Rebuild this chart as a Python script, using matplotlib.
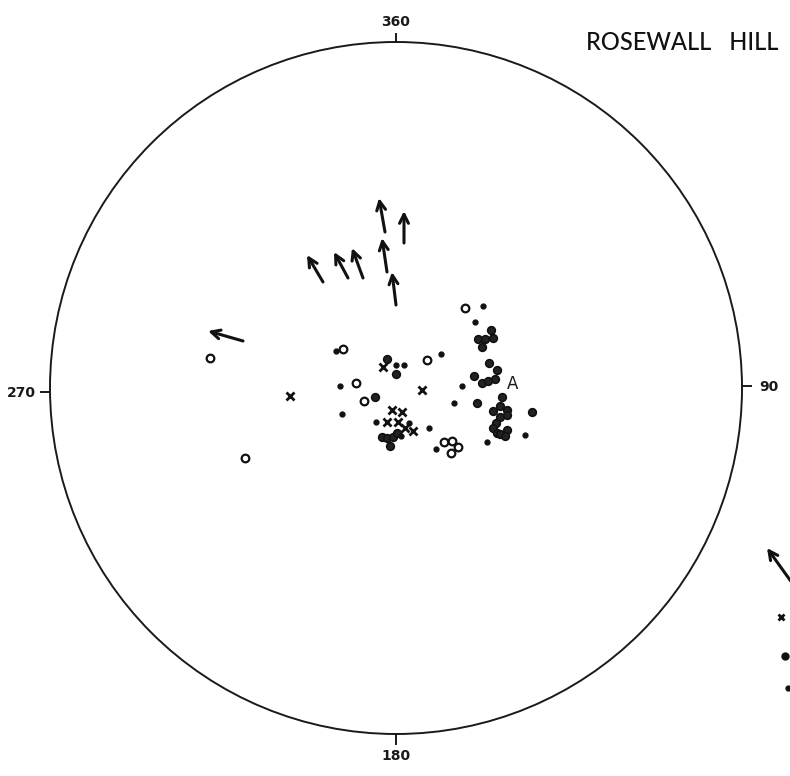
import numpy as np
import matplotlib
matplotlib.use("Agg")
import matplotlib.pyplot as plt
from matplotlib.patches import Circle, FancyArrowPatch

# net geometry in image pixels (x right, y down)
CX, CY, RAD = 396, 388, 346

# poles, pixel positions
open_x = [210, 245, 343, 356, 364, 427, 465, 444, 452, 458, 451]
open_y = [358, 458, 349, 383, 401, 360, 308, 442, 441, 447, 453]

cross_x = [290, 383, 422, 392, 402, 387, 398, 405, 413]
cross_y = [396, 367, 390, 410, 412, 422, 422, 428, 431]

dot_x = [387, 396, 375, 382, 387, 393, 397, 390,
         491, 478, 485, 493, 482, 489, 497, 474, 482, 488, 495,
         502, 477, 500, 493, 507, 500, 507, 532, 496, 493, 497, 500, 507, 505]
dot_y = [359, 374, 397, 437, 438, 437, 433, 446,
         330, 339, 339, 338, 347, 363, 370, 376, 383, 381, 379,
         397, 403, 406, 411, 410, 417, 415, 412, 423, 428, 433, 434, 430, 436]

small_x = [336, 396, 404, 340, 342, 376, 409, 401, 483, 475, 441, 462, 454, 429, 525, 487, 436]
small_y = [351, 365, 365, 386, 414, 422, 423, 436, 306, 322, 354, 386, 403, 428, 435, 442, 449]

# arrows: tail -> head
arr_tail = [(323, 282), (348, 278), (363, 278), (387, 272), (385, 232), (404, 243),
            (396, 305), (243, 341), (795, 587)]
arr_head = [(307, 255), (334, 252), (352, 248), (382, 238), (379, 198), (404, 211),
            (392, 272), (208, 331), (767, 548)]

# cut-off legend symbols at the right edge
leg_x = [781, 785, 788]
leg_y = [617, 656, 688]

fig = plt.figure(figsize=(7.9, 7.76), dpi=100)
ax = fig.add_axes([0, 0, 1, 1])
ax.set_xlim(0, 790); ax.set_ylim(776, 0); ax.set_aspect('equal'); ax.axis('off')

ink = '#1a1a1a'
ax.add_patch(Circle((CX, CY), RAD, fill=False, lw=1.4, color=ink))
# ticks at cardinal points
ax.plot([CX, CX], [CY - RAD - 8, CY - RAD], color=ink, lw=1.4)
ax.plot([CX, CX], [CY + RAD, CY + RAD + 10], color=ink, lw=1.4)
ax.plot([CX - RAD - 9, CX - RAD], [392, 392], color=ink, lw=1.4)
ax.plot([CX + RAD, CX + RAD + 9], [386, 386], color=ink, lw=1.4)

lab = dict(fontsize=10, color=ink, fontweight='semibold', family='DejaVu Sans')
ax.text(CX, 22, '360', ha='center', va='center', **lab)
ax.text(CX, 756, '180', ha='center', va='center', **lab)
ax.text(21, 393, '270', ha='center', va='center', **lab)
ax.text(769, 387, '90', ha='center', va='center', **lab)
ax.text(682, 42, 'ROSEWALL   HILL', ha='center', va='center', fontsize=17,
        color='#111', family='Lato', fontweight='medium')
ax.text(513, 384, 'A', ha='center', va='center', fontsize=12, color=ink, family='DejaVu Sans')

ax.plot(dot_x, dot_y, 'o', ms=5.5, mfc='#222', mec='#111', mew=1.2, ls='none')
ax.plot(small_x, small_y, 'o', ms=3.5, color='#111', ls='none')
ax.plot(open_x, open_y, 'o', ms=5.5, mfc='white', mec='#111', mew=1.6, ls='none')
ax.plot(cross_x, cross_y, 'x', ms=5.5, color='#111', mew=2, ls='none')
ax.plot(leg_x[:1], leg_y[:1], 'x', ms=4, color='#111', mew=2)
ax.plot(leg_x[1:2], leg_y[1:2], 'o', ms=5, color='#111')
ax.plot(leg_x[2:], leg_y[2:], 'o', ms=3.5, color='#111')

for t, h in zip(arr_tail, arr_head):
    ax.add_patch(FancyArrowPatch(t, h, arrowstyle='->,head_length=4,head_width=2',
                                 mutation_scale=1.6, lw=2.2, color='#111',
                                 shrinkA=0, shrinkB=0))

fig.savefig('out.png', dpi=100, facecolor='white')
